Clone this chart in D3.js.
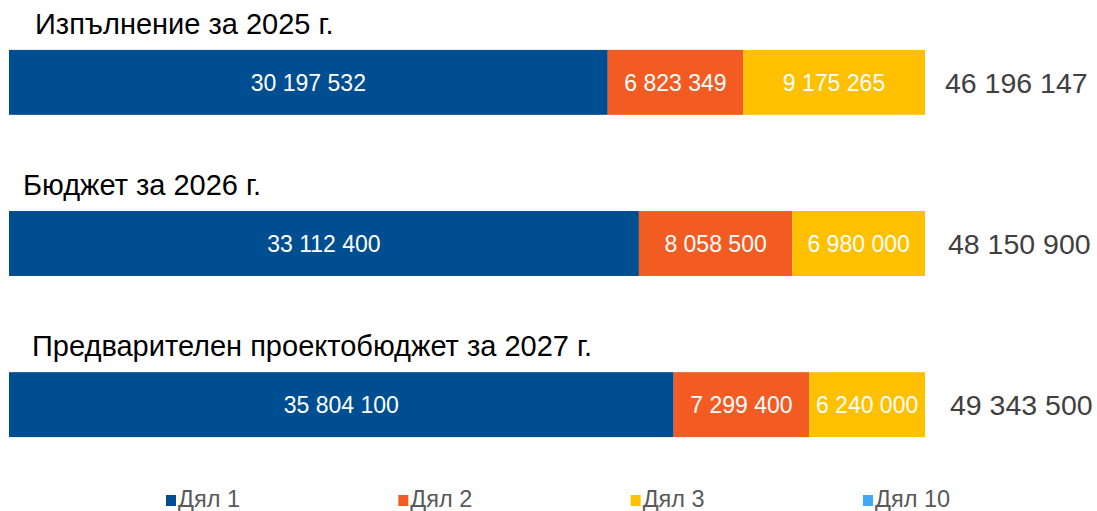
<!DOCTYPE html>
<html>
<head>
<meta charset="utf-8">
<script src="https://cdn.jsdelivr.net/npm/d3@7"></script>
<style>
html,body{margin:0;padding:0;background:#fff;}
svg{display:block;font-family:"Liberation Sans",Arial,sans-serif;}
</style>
</head>
<body>
<svg id="chart" width="1097" height="511"></svg>
<script>
const categories = ["Изпълнение за 2025 г.", "Бюджет за 2026 г.", "Предварителен проектобюджет за 2027 г."];
const seriesNames = ["Дял 1", "Дял 2", "Дял 3", "Дял 10"];
const dyal1 = [30197532, 33112400, 35804100];
const dyal2 = [6823349, 8058500, 7299400];
const dyal3 = [9175265, 6980000, 6240000];
const dyal10 = [0, 0, 0];
const totals = [46196147, 48150900, 49343500];
const colors = ["#004E92", "#F25C22", "#FFC000", "#3FA9F5"];

// layout only: left offsets of the category title text boxes and total labels
const titleX = [35, 23, 32];
const totalX = [945, 948, 950];

const seriesValues = [dyal1, dyal2, dyal3, dyal10];
const rows = categories.map((c, i) => {
  const r = {cat: c, total: totals[i], idx: i};
  seriesNames.forEach((s, j) => r[s] = seriesValues[j][i]);
  return r;
});

const svg = d3.select("#chart");
const fmt = v => d3.format(",")(v).replace(/,/g, " ");

const x = d3.scaleLinear().domain([0, 1]).range([9, 925]);
const y = d3.scaleBand().domain(categories).range([-46.3, 533.3]).paddingInner(0.597).paddingOuter(0.597);

const stack = d3.stack().keys(seriesNames).offset(d3.stackOffsetExpand);
const stacked = stack(rows);

const g = svg.append("g");
stacked.forEach((layer, li) => {
  const lg = g.append("g");
  lg.selectAll("rect").data(layer).enter().append("rect")
    .attr("x", d => x(d[0]))
    .attr("y", d => y(d.data.cat))
    .attr("width", d => Math.max(0, x(d[1]) - x(d[0])))
    .attr("height", y.bandwidth())
    .attr("fill", colors[li]);
  lg.selectAll("text").data(layer.filter(d => d.data[layer.key] > 0)).enter().append("text")
    .attr("x", d => (x(d[0]) + x(d[1])) / 2)
    .attr("y", d => y(d.data.cat) + y.bandwidth() / 2)
    .attr("dy", "0.36em")
    .attr("text-anchor", "middle")
    .attr("fill", "#fff")
    .attr("font-size", "23px")
    .text(d => fmt(d.data[layer.key]));
});

// category titles
svg.selectAll("text.cat").data(rows).enter().append("text")
  .attr("class", "cat")
  .attr("x", d => titleX[d.idx])
  .attr("y", d => y(d.cat) - 16)
  .attr("font-size", "29px")
  .attr("fill", "#000")
  .text(d => d.cat);

// totals
svg.selectAll("text.tot").data(rows).enter().append("text")
  .attr("class", "tot")
  .attr("x", d => totalX[d.idx])
  .attr("y", d => y(d.cat) + y.bandwidth() / 2)
  .attr("dy", "0.36em")
  .attr("font-size", "28.5px")
  .attr("fill", "#404040")
  .text(d => fmt(d.total));

// legend
const lx = d3.scalePoint().domain(seriesNames).range([166, 863]);
const leg = svg.append("g").selectAll("g").data(seriesNames).enter().append("g")
  .attr("transform", d => `translate(${lx(d)},495)`);
leg.append("rect").attr("width", 10).attr("height", 11).attr("fill", (d, i) => colors[i]);
leg.append("text").attr("x", 12).attr("y", 12).attr("font-size", "23.5px").attr("fill", "#595959").text(d => d);
</script>
</body>
</html>
